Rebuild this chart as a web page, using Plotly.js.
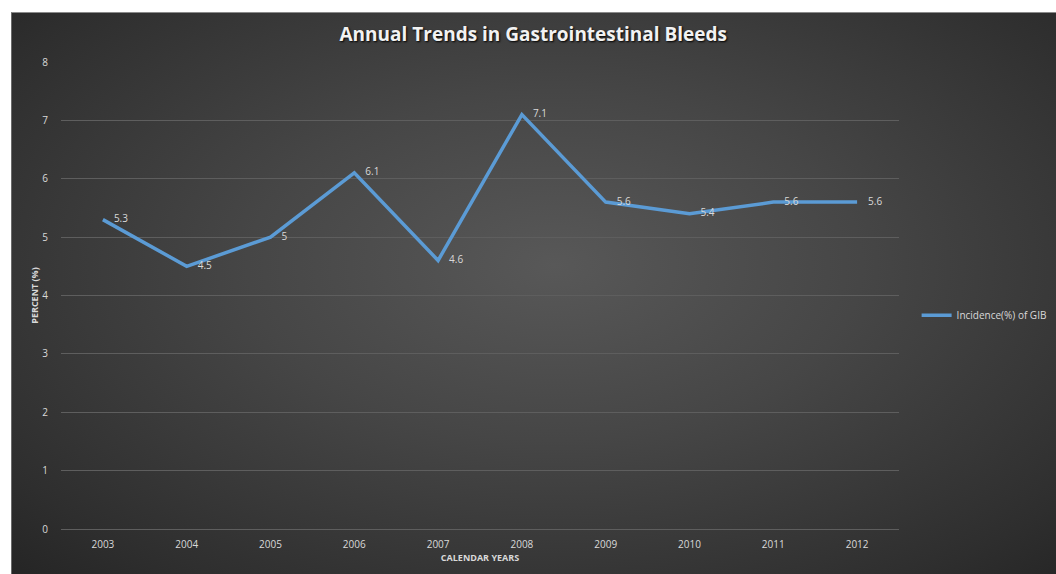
<!DOCTYPE html>
<html>
<head>
<meta charset="utf-8">
<script src="https://cdn.plot.ly/plotly-3.0.1.min.js"></script>
<style>
  html, body { margin:0; padding:0; background:#ffffff; width:1056px; height:574px; overflow:hidden; }
  #bg { position:absolute; left:11px; top:12px; width:1045px; height:562px;
        background: radial-gradient(ellipse at 52% 45%, #585858 0%, #464646 40%, #2e2e2e 85%, #252525 100%);
        border-left:1px solid #6a6a6a; border-top:1px solid #8a8a8a; box-sizing:border-box; }
  #chart { position:absolute; left:0; top:0; width:1056px; height:574px; }
</style>
</head>
<body>
<div id="bg"></div>
<div id="chart"></div>
<script>
const years = ["2003","2004","2005","2006","2007","2008","2009","2010","2011","2012"];
const incidence = [5.3, 4.5, 5, 6.1, 4.6, 7.1, 5.6, 5.4, 5.6, 5.6];
const seriesName = "Incidence(%) of GIB";
const yTicks = [0,1,2,3,4,5,6,7,8];

const trace = {
  type: "scatter",
  mode: "lines+markers+text",
  x: years,
  y: incidence,
  name: seriesName,
  text: incidence.map(String),
  textposition: "middle right",
  textfont: { family: "Open Sans, sans-serif", size: 10, color: "#d9d9d9" },
  line: { color: "#5b9bd5", width: 3.5 },
  marker: { size: 16, color: "rgba(0,0,0,0)", line: { width: 0 } },
  cliponaxis: false
};

const layout = {
  width: 1056, height: 574,
  paper_bgcolor: "rgba(0,0,0,0)",
  plot_bgcolor: "rgba(0,0,0,0)",
  margin: { l: 61, r: 157, t: 62, b: 45, autoexpand: false },
  title: {
    text: "<b>Annual Trends in Gastrointestinal Bleeds</b>",
    font: { family: "Open Sans, sans-serif", size: 19, color: "#f2f2f2", shadow: "1px 1px 2px #000" },
    x: 0.505, xanchor: "center", y: 0.941, yanchor: "middle", yref: "container"
  },
  xaxis: {
    type: "category",
    range: [-0.5, years.length - 0.5],
    showgrid: false, zeroline: false, showline: false,
    ticks: "outside", ticklen: 6, tickcolor: "rgba(0,0,0,0)",
    tickfont: { family: "Open Sans, sans-serif", size: 10, color: "#d9d9d9" },
    title: { text: "<b>CALENDAR YEARS</b>", font: { family: "Open Sans, sans-serif", size: 9, color: "#d9d9d9" }, standoff: 4 }
  },
  yaxis: {
    range: [0, 8], tickvals: yTicks, ticktext: yTicks.map(String),
    showgrid: true, gridcolor: "#5e5e5e", gridwidth: 1,
    zeroline: true, zerolinecolor: "#5e5e5e", zerolinewidth: 1,
    showline: false,
    ticks: "outside", ticklen: 10, tickcolor: "rgba(0,0,0,0)",
    tickfont: { family: "Open Sans, sans-serif", size: 10, color: "#d9d9d9" },
    title: { text: "<b>PERCENT (%)</b>", font: { family: "Open Sans, sans-serif", size: 9, color: "#d9d9d9" }, standoff: 2 }
  },
  showlegend: true,
  legend: {
    xref: "container", yref: "container",
    x: 0.868, xanchor: "left", y: 0.451, yanchor: "middle",
    bgcolor: "rgba(0,0,0,0)",
    font: { family: "Open Sans, sans-serif", size: 10, color: "#d9d9d9" },
    itemwidth: 30
  }
};

Plotly.newPlot("chart", [trace], layout, { displayModeBar: false, staticPlot: true });
</script>
</body>
</html>
